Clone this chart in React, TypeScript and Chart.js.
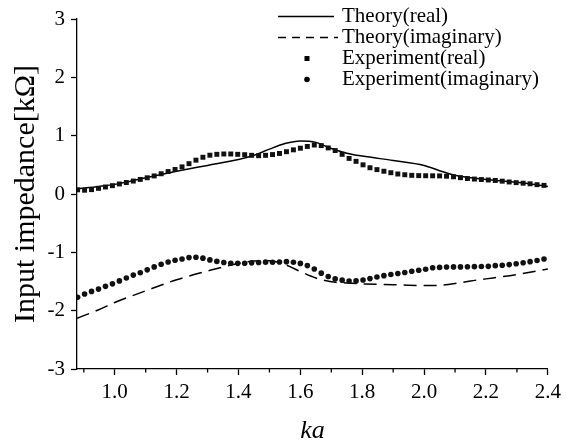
import React, { useEffect, useRef } from "react";
import { Chart, registerables } from "chart.js";

Chart.register(...registerables);

// ---------- data ----------
const theoryKa = [0.878, 0.95, 1.0, 1.1, 1.2, 1.3, 1.4, 1.45, 1.5, 1.55, 1.6, 1.65, 1.7, 1.75, 1.8, 1.9, 2.0, 2.05, 2.1, 2.15, 2.2, 2.3, 2.4];
const theoryReal = [0.09, 0.13, 0.165, 0.28, 0.39, 0.49, 0.59, 0.665, 0.77, 0.865, 0.91, 0.885, 0.78, 0.7, 0.65, 0.575, 0.49, 0.4, 0.32, 0.28, 0.25, 0.2, 0.13];
const theoryImag = [-2.13, -1.98, -1.86, -1.66, -1.47, -1.32, -1.19, -1.15, -1.145, -1.21, -1.33, -1.44, -1.505, -1.525, -1.54, -1.555, -1.57, -1.565, -1.535, -1.49, -1.455, -1.38, -1.285];

const expKa = [0.88, 0.9025, 0.925, 0.9475, 0.97, 0.9925, 1.015, 1.0375, 1.06, 1.0825, 1.105, 1.1275, 1.15, 1.1725, 1.195, 1.2175, 1.24, 1.2625, 1.285, 1.3075, 1.33, 1.3525, 1.375, 1.3975, 1.42, 1.4425, 1.465, 1.4875, 1.51, 1.5325, 1.555, 1.5775, 1.6, 1.6225, 1.645, 1.6675, 1.69, 1.7125, 1.735, 1.7575, 1.78, 1.8025, 1.825, 1.8475, 1.87, 1.8925, 1.915, 1.9375, 1.96, 1.9825, 2.005, 2.0275, 2.05, 2.0725, 2.095, 2.1175, 2.14, 2.1625, 2.185, 2.2075, 2.23, 2.2525, 2.275, 2.2975, 2.32, 2.3425, 2.365, 2.3875];
const expReal = [0.072, 0.065, 0.075, 0.097, 0.12, 0.143, 0.172, 0.197, 0.222, 0.25, 0.278, 0.31, 0.347, 0.385, 0.42, 0.465, 0.52, 0.58, 0.63, 0.665, 0.68, 0.686, 0.686, 0.68, 0.674, 0.663, 0.657, 0.663, 0.676, 0.695, 0.725, 0.757, 0.785, 0.815, 0.84, 0.83, 0.79, 0.745, 0.68, 0.61, 0.56, 0.5, 0.45, 0.418, 0.39, 0.365, 0.343, 0.33, 0.32, 0.315, 0.313, 0.312, 0.31, 0.305, 0.295, 0.28, 0.265, 0.256, 0.248, 0.24, 0.232, 0.22, 0.206, 0.195, 0.185, 0.175, 0.16, 0.148];
const expImag = [-1.77, -1.715, -1.67, -1.63, -1.583, -1.54, -1.49, -1.44, -1.39, -1.35, -1.3, -1.25, -1.205, -1.165, -1.135, -1.113, -1.09, -1.085, -1.1, -1.13, -1.155, -1.175, -1.186, -1.189, -1.186, -1.18, -1.173, -1.168, -1.17, -1.166, -1.16, -1.17, -1.19, -1.227, -1.286, -1.357, -1.415, -1.455, -1.477, -1.491, -1.49, -1.475, -1.45, -1.424, -1.4, -1.38, -1.362, -1.345, -1.325, -1.308, -1.29, -1.265, -1.258, -1.252, -1.25, -1.25, -1.248, -1.245, -1.243, -1.24, -1.228, -1.222, -1.21, -1.195, -1.178, -1.16, -1.14, -1.115];

const seriesLabels = ["Theory(real)", "Theory(imaginary)", "Experiment(real)", "Experiment(imaginary)"];
const xTickValues = [1.0, 1.2, 1.4, 1.6, 1.8, 2.0, 2.2, 2.4];
const xMinorTickValues = [0.9, 1.1, 1.3, 1.5, 1.7, 1.9, 2.1, 2.3];
const yTickValues = [-3, -2, -1, 0, 1, 2, 3];
const xTitle = "ka";
const yTitle = "Input impedance[kΩ]";

const FONT = "'Liberation Serif', 'Times New Roman', serif";

export default function App() {
  const ref = useRef<HTMLCanvasElement | null>(null);

  useEffect(() => {
    const canvas = ref.current;
    if (!canvas) return;
    const toPts = (xs: number[], ys: number[]) => xs.map((x, i) => ({ x, y: ys[i] }));

    const minorTicks = {
      id: "minorTicks",
      afterDraw(chart: any) {
        const xs = chart.scales.x;
        const c = chart.ctx;
        c.save();
        c.strokeStyle = "#000";
        c.lineWidth = 1.3;
        xMinorTickValues.forEach((v) => {
          const px = xs.getPixelForValue(v);
          c.beginPath();
          c.moveTo(px, xs.top);
          c.lineTo(px, xs.top + 3.5);
          c.stroke();
        });
        c.restore();
      },
    };

    const legendPlugin = {
      id: "customLegend",
      afterDraw(chart: any) {
        const c = chart.ctx;
        const rows = [16.5, 37.5, 58.5, 79.5];
        c.save();
        c.fillStyle = "#000";
        c.strokeStyle = "#000";
        c.font = `21px ${FONT}`;
        c.textBaseline = "middle";
        c.textAlign = "left";
        chart.data.datasets.forEach((ds: any, i: number) => {
          const y = rows[i];
          if (i === 0) {
            c.lineWidth = 1.5;
            c.setLineDash([]);
            c.beginPath();
            c.moveTo(278, y);
            c.lineTo(334, y);
            c.stroke();
          } else if (i === 1) {
            c.lineWidth = 1.5;
            c.setLineDash([8, 6]);
            c.beginPath();
            c.moveTo(278, y);
            c.lineTo(338, y);
            c.stroke();
            c.setLineDash([]);
          } else if (i === 2) {
            c.fillRect(307 - 2.5, y - 2.5, 5, 5);
          } else {
            c.beginPath();
            c.arc(307, y, 2.8, 0, Math.PI * 2);
            c.fill();
          }
          c.fillText(ds.label, 342, y);
        });
        c.restore();
      },
    };

    const chart = new Chart(canvas, {
      type: "scatter",
      data: {
        datasets: [
          {
            label: seriesLabels[0],
            data: toPts(theoryKa, theoryReal),
            showLine: true,
            borderColor: "#000",
            borderWidth: 1.5,
            pointRadius: 0,
            cubicInterpolationMode: "monotone",
            order: 1,
          },
          {
            label: seriesLabels[1],
            data: toPts(theoryKa, theoryImag),
            showLine: true,
            borderColor: "#000",
            borderWidth: 1.5,
            borderDash: [13, 7],
            pointRadius: 0,
            cubicInterpolationMode: "monotone",
            order: 1,
          },
          {
            label: seriesLabels[2],
            data: toPts(expKa, expReal),
            showLine: false,
            pointStyle: "rect",
            pointRadius: 3.5,
            backgroundColor: "#111",
            borderWidth: 0,
            order: 0,
          },
          {
            label: seriesLabels[3],
            data: toPts(expKa, expImag),
            showLine: false,
            pointStyle: "circle",
            pointRadius: 2.8,
            backgroundColor: "#111",
            borderWidth: 0,
            order: 0,
          },
        ] as any,
      },
      options: {
        animation: false,
        responsive: false,
        devicePixelRatio: 1,
        layout: { padding: { left: 0, right: 15, top: 19, bottom: 0 } },
        plugins: {
          legend: { display: false },
          tooltip: { enabled: false },
        },
        scales: {
          x: {
            type: "linear",
            min: 0.878,
            max: 2.4,
            afterBuildTicks: (s: any) => {
              s.ticks = xTickValues.map((v) => ({ value: v }));
            },
            afterFit: (s: any) => {
              s.height = 75;
            },
            ticks: {
              callback: (v: any) => Number(v).toFixed(1),
              font: { family: FONT, size: 21 },
              color: "#000",
              padding: 5,
              maxRotation: 0,
              autoSkip: false,
            },
            grid: {
              display: true,
              drawOnChartArea: false,
              drawTicks: true,
              tickLength: 6,
              tickColor: "#000",
              tickWidth: 1.3,
            },
            border: { display: true, color: "#000", width: 1.3 },
            title: {
              display: true,
              text: xTitle,
              color: "#000",
              font: { family: FONT, size: 26, style: "italic" },
              padding: { top: 0, bottom: -3 },
            },
          },
          y: {
            type: "linear",
            min: -3,
            max: 3,
            afterBuildTicks: (s: any) => {
              s.ticks = yTickValues.map((v) => ({ value: v }));
            },
            afterFit: (s: any) => {
              s.width = 77;
            },
            ticks: {
              callback: (v: any) => String(v),
              font: { family: FONT, size: 21 },
              color: "#000",
              padding: 6,
            },
            grid: {
              display: true,
              drawOnChartArea: false,
              drawTicks: true,
              tickLength: 6,
              tickColor: "#000",
              tickWidth: 1.3,
            },
            border: { display: true, color: "#000", width: 1.3 },
            title: {
              display: true,
              text: yTitle,
              color: "#000",
              font: { family: FONT, size: 30 },
              padding: { top: 8, bottom: 0 },
            },
          },
        },
      } as any,
      plugins: [minorTicks, legendPlugin],
    });

    return () => chart.destroy();
  }, []);

  return (
    <div style={{ position: "absolute", left: 0, top: 0, width: 566, height: 444, background: "#fff" }}>
      <canvas ref={ref} width={566} height={444} style={{ width: 566, height: 444, display: "block" }} />
    </div>
  );
}
